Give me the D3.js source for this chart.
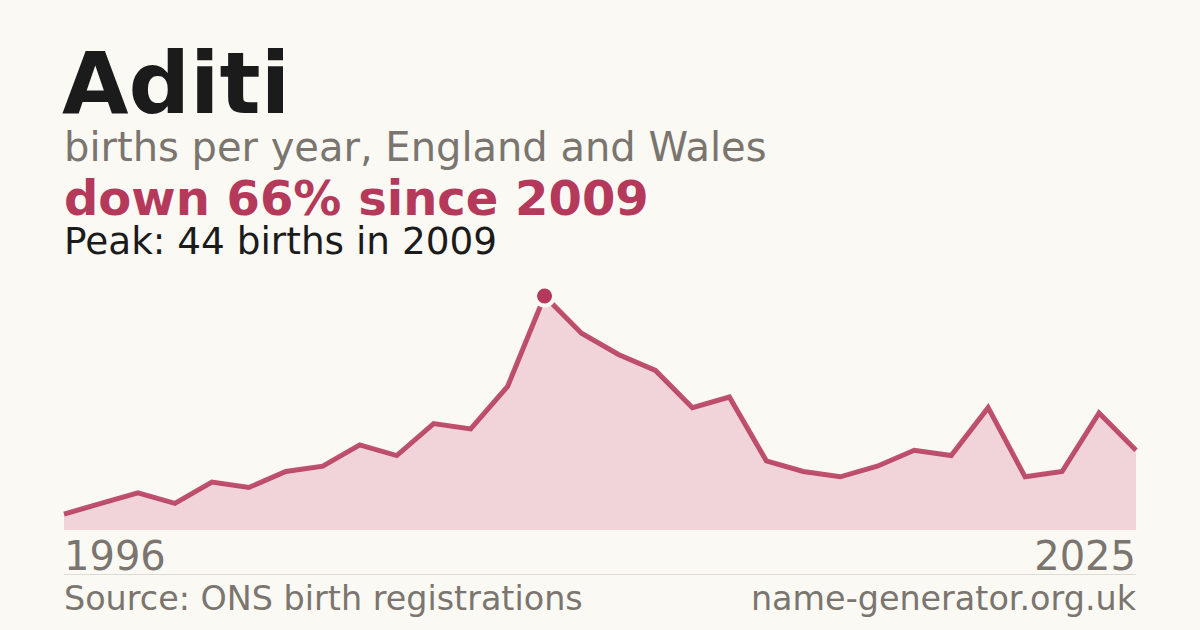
<!DOCTYPE html>
<html>
<head>
<meta charset="utf-8">
<script src="https://cdn.jsdelivr.net/npm/d3@7"></script>
<style>
  html, body { margin: 0; padding: 0; background: #faf9f4; }
  svg { display: block; font-family: "DejaVu Sans", sans-serif; }
</style>
</head>
<body>
<svg width="1200" height="630"></svg>
<script>
// data
var years = d3.range(1996, 2026);
var births = [3, 5, 7, 5, 9, 8, 11, 12, 16, 14, 20, 19, 27, 44, 37, 33, 30, 23, 25, 13,
              11, 10, 12, 15, 14, 23, 10, 11, 22, 15];
var xLabels = ["1996", "2025"];

function main() {
    var svg = d3.select("svg"),
        left = 64,
        right = 1136,
        top = 296,
        bottom = 530;

    svg.append("rect").attr("width", 1200).attr("height", 630).attr("fill", "#faf9f4");

    // Headings
    svg.append("text").attr("x", 62).attr("y", 113)
       .attr("font-size", "86px").attr("font-weight", "bold").attr("fill", "#1b1b1b")
       .text("Aditi");
    svg.append("text").attr("x", 64).attr("y", 161)
       .attr("font-size", "40px").attr("fill", "#7a756e")
       .text("births per year, England and Wales");
    svg.append("text").attr("x", 64).attr("y", 215)
       .attr("font-size", "48px").attr("font-weight", "bold").attr("fill", "#b5395a")
       .text("down 66% since 2009");
    svg.append("text").attr("x", 64).attr("y", 254)
       .attr("font-size", "37.4px").attr("fill", "#1b1b1b")
       .text("Peak: 44 births in 2009");

    var data = years.map(function(y, i) { return {year: y, v: births[i]}; });

    var xScale = d3.scaleLinear().domain([years[0], years[years.length - 1]]).range([left, right]),
        yScale = d3.scaleLinear().domain([0, d3.max(births)]).range([bottom, top]);

    var area = d3.area()
        .x(function(d) { return xScale(d.year); })
        .y0(bottom)
        .y1(function(d) { return yScale(d.v); });

    var line = d3.line()
        .x(function(d) { return xScale(d.year); })
        .y(function(d) { return yScale(d.v); });

    svg.append("path").datum(data)
       .attr("d", area)
       .attr("fill", "#f0d4da");

    svg.append("path").datum(data)
       .attr("d", line)
       .attr("fill", "none")
       .attr("stroke", "#b5395a")
       .attr("stroke-opacity", 0.88)
       .attr("stroke-width", 5)
       .attr("stroke-linejoin", "miter");

    // peak marker
    var peak = data[d3.maxIndex(births)];
    svg.append("circle")
       .attr("cx", xScale(peak.year)).attr("cy", yScale(peak.v))
       .attr("r", 9.5)
       .attr("fill", "#b5395a")
       .attr("stroke", "#faf9f4").attr("stroke-width", 4);

    // x end labels
    svg.append("text").attr("x", left).attr("y", 570)
       .attr("font-size", "40px").attr("fill", "#7a756e")
       .text(xLabels[0]);
    svg.append("text").attr("x", right).attr("y", 570)
       .attr("font-size", "40px").attr("fill", "#7a756e").attr("text-anchor", "end")
       .text(xLabels[1]);

    svg.append("line").attr("x1", left).attr("x2", right).attr("y1", 574.5).attr("y2", 574.5)
       .attr("stroke", "#dddad3").attr("stroke-width", 1);

    // footer
    svg.append("text").attr("x", left).attr("y", 610)
       .attr("font-size", "33.4px").attr("fill", "#7a756e")
       .text("Source: ONS birth registrations");
    svg.append("text").attr("x", right).attr("y", 610)
       .attr("font-size", "33.4px").attr("fill", "#7a756e").attr("text-anchor", "end")
       .text("name-generator.org.uk");
}
main();
</script>
</body>
</html>
